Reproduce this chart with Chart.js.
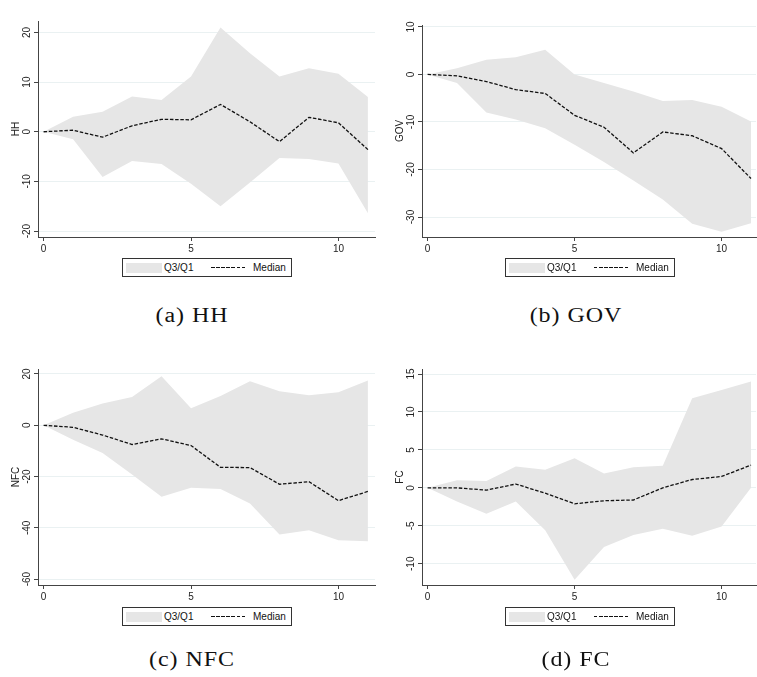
<!DOCTYPE html>
<html>
<head>
<meta charset="utf-8">
<script src="https://cdn.jsdelivr.net/npm/chart.js@4/dist/chart.umd.min.js"></script>
<style>
  body { margin: 0; background: #fff; }
  #wrap { position: relative; width: 757px; height: 677px; overflow: hidden; font-family: "Liberation Sans", Arial, sans-serif; }
  canvas.panel { position: absolute; }
  .legend { position: absolute; width: 170px; height: 19px; box-sizing: border-box; border: 1px solid #333; background: #fff; font-size: 10px; color: #111; }
  .legend .sw { position: absolute; left: 3px; top: 4px; width: 36px; height: 10px; background: #e6e6e6; }
  .legend .t1 { position: absolute; left: 41px; top: 3px; line-height: 11px; }
  .legend .dash { position: absolute; left: 88px; top: 8px; width: 36px; height: 1.3px; background: repeating-linear-gradient(to right, #111 0 3.5px, transparent 3.5px 5.1px); }
  .legend .t2 { position: absolute; left: 130px; top: 3px; line-height: 11px; }
  .cap { position: absolute; width: 240px; text-align: center; font-family: "Liberation Serif", serif; font-size: 20px; line-height: 20px; letter-spacing: 0.8px; color: #111; transform: scaleX(1.2); transform-origin: center; }
</style>
</head>
<body>
<div id="wrap">
  <canvas class="panel" id="hh" width="378" height="261" style="left:0;top:0"></canvas>
  <canvas class="panel" id="gov" width="373" height="261" style="left:384px;top:0"></canvas>
  <canvas class="panel" id="nfc" width="378" height="261" style="left:0;top:348px"></canvas>
  <canvas class="panel" id="fc" width="373" height="261" style="left:384px;top:348px"></canvas>

  <div class="legend" style="left:122px;top:258px"><div class="sw"></div><span class="t1">Q3/Q1</span><div class="dash"></div><span class="t2">Median</span></div>
  <div class="legend" style="left:505px;top:258px"><div class="sw"></div><span class="t1">Q3/Q1</span><div class="dash"></div><span class="t2">Median</span></div>
  <div class="legend" style="left:122px;top:607px"><div class="sw"></div><span class="t1">Q3/Q1</span><div class="dash"></div><span class="t2">Median</span></div>
  <div class="legend" style="left:505px;top:607px"><div class="sw"></div><span class="t1">Q3/Q1</span><div class="dash"></div><span class="t2">Median</span></div>

  <div class="cap" style="left:72px;top:305px">(a) HH</div>
  <div class="cap" style="left:456px;top:305px">(b) GOV</div>
  <div class="cap" style="left:72px;top:649px">(c) NFC</div>
  <div class="cap" style="left:456px;top:649px">(d) FC</div>
</div>
<script>
// horizon (x axis)
const steps = [0, 1, 2, 3, 4, 5, 6, 7, 8, 9, 10, 11];
const xTicks = [0, 5, 10];

// HH
const hhMedian = [0, 0.3, -1.1, 1.2, 2.5, 2.4, 5.5, 2.0, -2.0, 2.9, 1.8, -3.6];
const hhQ3 = [0, 3.0, 4.0, 7.1, 6.4, 11.1, 21.0, 15.8, 11.1, 12.8, 11.7, 7.0];
const hhQ1 = [0, -1.5, -9.1, -5.9, -6.5, -10.5, -15.0, -10.2, -5.3, -5.5, -6.4, -16.4];
const hhTicks = [-20, -10, 0, 10, 20];

// GOV
const govMedian = [0, -0.3, -1.5, -3.2, -4.0, -8.6, -11.1, -16.5, -12.1, -12.9, -15.6, -21.9];
const govQ3 = [0, 1.3, 3.1, 3.6, 5.2, 0, -1.8, -3.6, -5.6, -5.4, -6.8, -9.9];
const govQ1 = [0, -1.8, -8.0, -9.5, -11.3, -14.8, -18.4, -22.3, -26.3, -31.4, -33.1, -31.3];
const govTicks = [-30, -20, -10, 0, 10];

// NFC
const nfcMedian = [0, -0.8, -3.8, -7.5, -5.3, -7.9, -16.4, -16.5, -23.0, -22.0, -29.4, -25.8];
const nfcQ3 = [0, 4.9, 8.5, 11.0, 19.1, 6.6, 11.4, 17.2, 13.3, 11.7, 12.9, 17.5];
const nfcQ1 = [0, -5.6, -10.8, -19.2, -27.9, -24.4, -24.9, -30.5, -42.6, -40.9, -44.8, -45.2];
const nfcTicks = [-60, -40, -20, 0, 20];

// FC
const fcMedian = [0, 0, -0.3, 0.5, -0.7, -2.1, -1.7, -1.6, 0, 1.1, 1.5, 3.0];
const fcQ3 = [0, 1.0, 0.9, 2.8, 2.4, 3.9, 1.9, 2.7, 2.9, 11.8, 12.9, 14.0];
const fcQ1 = [0, -1.8, -3.4, -1.8, -5.6, -12.1, -7.8, -6.2, -5.4, -6.3, -5.1, 0];
const fcTicks = [-10, -5, 0, 5, 10, 15];

Chart.defaults.font.family = "'Liberation Sans', Arial, sans-serif";
Chart.defaults.font.size = 10;

const toPts = (vals) => steps.map((s, i) => ({ x: s, y: vals[i] }));

function panel(id, title, median, q3, q1, yTicks, yMin, yMax, xMax, padTop, padRight) {
    const ctx = document.getElementById(id);
    return new Chart(ctx, {
        type: "line",
        data: {
            datasets: [
                {
                    label: "Median",
                    data: toPts(median),
                    borderColor: "#111",
                    borderWidth: 1.3,
                    borderDash: [3.5, 1.7],
                    pointRadius: 0,
                    tension: 0,
                    fill: false,
                },
                {
                    label: "Q3/Q1",
                    data: toPts(q3),
                    borderColor: "rgba(0,0,0,0)",
                    borderWidth: 0,
                    backgroundColor: "#e6e6e6",
                    pointRadius: 0,
                    tension: 0,
                    fill: "+1",
                },
                {
                    label: "Q1",
                    data: toPts(q1),
                    borderColor: "rgba(0,0,0,0)",
                    borderWidth: 0,
                    pointRadius: 0,
                    tension: 0,
                    fill: false,
                },
            ],
        },
        options: {
            responsive: false,
            animation: false,
            layout: { padding: { top: padTop, right: padRight, left: 0, bottom: 0 } },
            plugins: { legend: { display: false }, tooltip: { enabled: false } },
            scales: {
                x: {
                    type: "linear",
                    min: -0.19,
                    max: xMax,
                    afterBuildTicks: (s) => { s.ticks = xTicks.map((v) => ({ value: v })); },
                    afterFit: (s) => { s.height = 24; },
                    grid: { drawOnChartArea: false, tickLength: 4, tickColor: "#444" },
                    border: { color: "#444", width: 1 },
                    ticks: { padding: 2, color: "#222", maxRotation: 0 },
                },
                y: {
                    min: yMin,
                    max: yMax,
                    afterBuildTicks: (s) => { s.ticks = yTicks.map((v) => ({ value: v })); },
                    afterFit: (s) => { s.width = 38; },
                    grid: { color: "#eaf1f2", tickLength: 4, tickColor: "#444" },
                    border: { color: "#444", width: 1 },
                    ticks: { padding: 0, crossAlign: "center", minRotation: 90, maxRotation: 90, color: "#222" },
                    title: { display: true, text: title, color: "#222", padding: { top: 10, bottom: 0 } },
                },
            },
        },
    });
}

panel("hh", "HH", hhMedian, hhQ3, hhQ1, hhTicks, -21.2, 22.3, 11.24, 21, 3);
panel("gov", "GOV", govMedian, govQ3, govQ1, govTicks, -34.2, 10.4, 11.17, 25, 1);
panel("nfc", "NFC", nfcMedian, nfcQ3, nfcQ1, nfcTicks, -62.3, 21.95, 11.24, 21, 3);
panel("fc", "FC", fcMedian, fcQ3, fcQ1, fcTicks, -12.8, 15.66, 11.17, 21, 1);
</script>
</body>
</html>
